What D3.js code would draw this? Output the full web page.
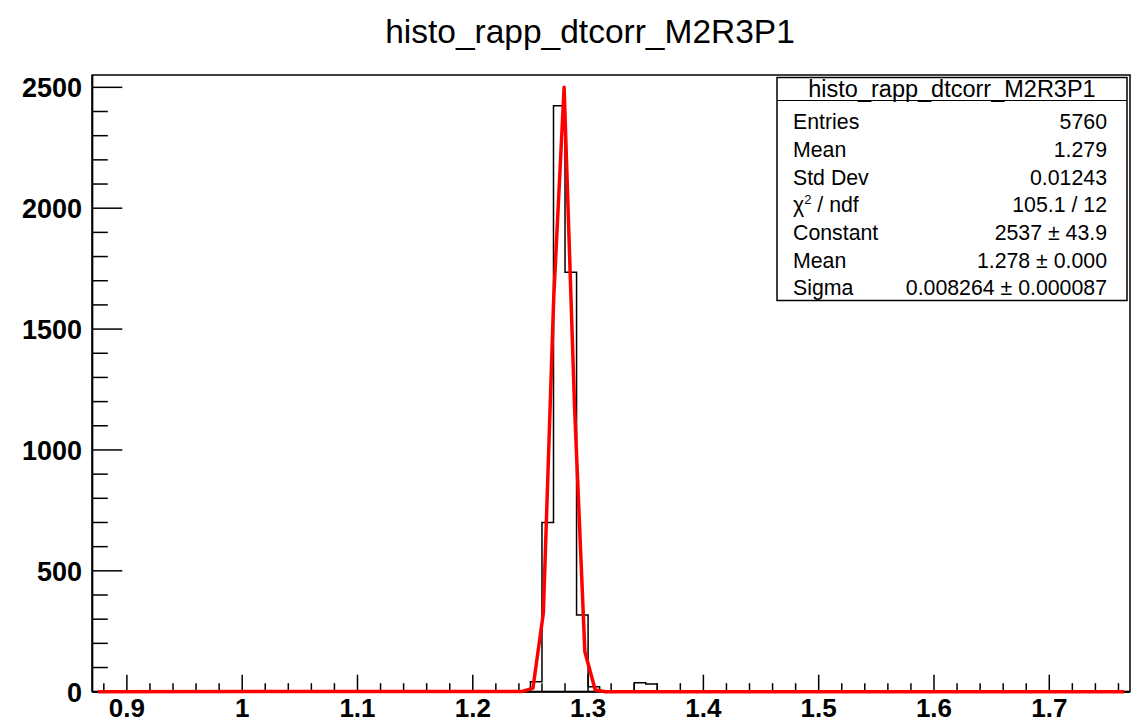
<!DOCTYPE html>
<html>
<head>
<meta charset="utf-8">
<script src="https://cdn.jsdelivr.net/npm/d3@7/dist/d3.min.js"></script>
<style>
  html, body { margin: 0; padding: 0; background: #fff; }
  svg { display: block; font-family: "Liberation Sans", Arial, Helvetica, sans-serif; }
</style>
</head>
<body>
<svg id="chart" width="1140" height="723"></svg>
<script>
// ---------- data ----------
const chartTitle = "histo_rapp_dtcorr_M2R3P1";
const binLow = 0.87;
const binWidth = 0.01;
const binCount = 90;
// non-empty bins: lower edge -> content
const binEdges  = [1.25, 1.26, 1.27, 1.28, 1.29, 1.30, 1.31, 1.34, 1.35];
const binValues = [41,   700,  2424, 1735, 317,  20,   4,    37,   32];
// fitted gaussian polyline as drawn (x, y)
const fitX = [0.875, 1.2432, 1.2522, 1.2612, 1.2702, 1.2792, 1.2882, 1.2972, 1.3062, 1.3152, 1.765];
const fitY = [0,     1,      15,     325,    1630,   2500,   1185,   165,    7,      0,      0];
const xTickLabels = [0.9, 1.0, 1.1, 1.2, 1.3, 1.4, 1.5, 1.6, 1.7];
const yTickLabels = [0, 500, 1000, 1500, 2000, 2500];
const statNames  = ["Entries", "Mean", "Std Dev", "CHI", "Constant", "Mean", "Sigma"];
const statValues = ["5760", "1.279", "0.01243", "105.1 / 12", "2537 \u00b1 43.9", "1.278 \u00b1 0.000", "0.008264 \u00b1 0.000087"];

// ---------- layout ----------
const L = 92.3, R = 1130, T = 75, B = 691.7;
const yMax = 2551;
const svg = d3.select("#chart");
const x = d3.scaleLinear().domain([binLow, binLow + binCount * binWidth]).range([L, R]);
const y = d3.scaleLinear().domain([0, yMax]).range([B, T]);

// title
svg.append("text").attr("x", 590).attr("y", 43).attr("text-anchor", "middle")
  .attr("font-size", 33.5).attr("fill", "#000").text(chartTitle);

// histogram step path
const counts = new Array(binCount).fill(0);
binEdges.forEach((e, i) => { counts[Math.round((e - binLow) / binWidth)] = binValues[i]; });
let p = d3.path();
p.moveTo(x(binLow), y(0));
counts.forEach((c, i) => {
  const x0 = x(binLow + i * binWidth), x1 = x(binLow + (i + 1) * binWidth);
  p.lineTo(x0, y(c));
  p.lineTo(x1, y(c));
});
p.lineTo(x(binLow + binCount * binWidth), y(0));
svg.append("path").attr("d", p.toString()).attr("fill", "none")
  .attr("stroke", "#000").attr("stroke-width", 1.5);

// frame
svg.append("rect").attr("x", L).attr("y", T).attr("width", R - L).attr("height", B - T)
  .attr("fill", "none").attr("stroke", "#000").attr("stroke-width", 1.5);
svg.append("line").attr("x1", L).attr("x2", L).attr("y1", T).attr("y2", B)
  .attr("stroke", "#000").attr("stroke-width", 2);
svg.append("line").attr("x1", L).attr("x2", R).attr("y1", B).attr("y2", B)
  .attr("stroke", "#000").attr("stroke-width", 2);

// y ticks
const yMinor = d3.range(0, yMax, 100);
svg.append("g").selectAll("line").data(yMinor).join("line")
  .attr("x1", L).attr("x2", d => L + (d % 500 === 0 ? 30 : 15.5))
  .attr("y1", d => y(d)).attr("y2", d => y(d))
  .attr("stroke", "#000").attr("stroke-width", 1.5);
svg.append("g").selectAll("text").data(yTickLabels).join("text")
  .attr("x", 82).attr("y", d => y(d) + 10).attr("text-anchor", "end")
  .attr("font-size", 27).attr("font-weight", "bold").text(d => d);

// x ticks
const xMinor = d3.range(0, 45).map(i => +(0.88 + i * 0.02).toFixed(2)).filter(v => v < 1.77);
svg.append("g").selectAll("line").data(xMinor).join("line")
  .attr("x1", d => x(d)).attr("x2", d => x(d))
  .attr("y1", B).attr("y2", d => B - (Math.abs(d * 10 - Math.round(d * 10)) < 1e-6 ? 17 : 8.5))
  .attr("stroke", "#000").attr("stroke-width", 1.5);
svg.append("g").selectAll("text").data(xTickLabels).join("text")
  .attr("x", d => x(d)).attr("y", 717).attr("text-anchor", "middle")
  .attr("font-size", 26).attr("font-weight", "bold").text(d => d === 1 ? "1" : d);

// fit curve
const line = d3.line().x(d => x(d[0])).y(d => y(d[1]));
svg.append("path").attr("d", line(fitX.map((v, i) => [v, fitY[i]])))
  .attr("fill", "none").attr("stroke", "#ff0000").attr("stroke-width", 3.5)
  .attr("stroke-linejoin", "round");

// stats box
const bx = 777, by = 77.5, bw = 350, bh = 223;
svg.append("rect").attr("x", bx).attr("y", by).attr("width", bw).attr("height", bh)
  .attr("fill", "#fff").attr("stroke", "#000").attr("stroke-width", 1.5);
svg.append("line").attr("x1", bx).attr("x2", bx + bw).attr("y1", 100.5).attr("y2", 100.5)
  .attr("stroke", "#000").attr("stroke-width", 1.2);
svg.append("text").attr("x", bx + bw / 2).attr("y", 96.5).attr("text-anchor", "middle")
  .attr("font-size", 23.5).text(chartTitle);
const rowY = [128.5, 156.5, 184.5, 212, 240, 268, 295];
const g = svg.append("g").attr("font-size", 21.3);
statNames.forEach((n, i) => {
  const t = g.append("text").attr("x", 793).attr("y", rowY[i]);
  if (n === "CHI") {
    t.append("tspan").text("\u03c7");
    t.append("tspan").attr("dy", -8).attr("font-size", 13).text("2");
    t.append("tspan").attr("dy", 8).text(" / ndf");
  } else t.text(n);
  g.append("text").attr("x", 1107).attr("y", rowY[i]).attr("text-anchor", "end").text(statValues[i]);
});
</script>
</body>
</html>
